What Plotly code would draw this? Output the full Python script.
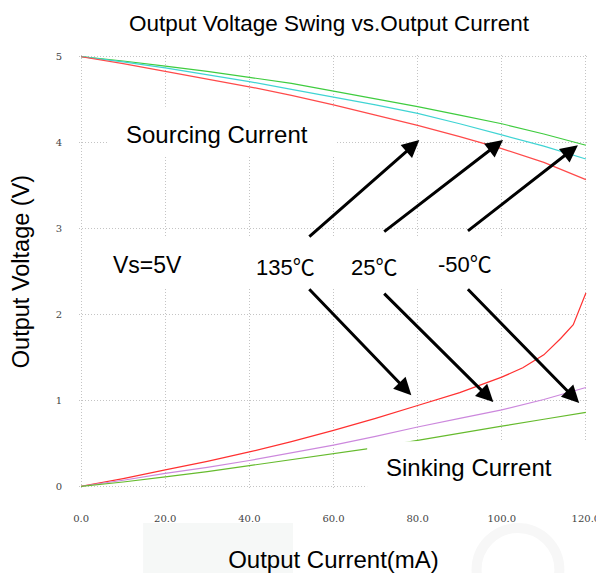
import plotly.graph_objects as go

# ---------------- data ----------------
x_source = [0, 10, 20, 30, 40, 50, 60, 70, 80, 90, 100, 110, 120]
src_m50 = [5.00, 4.95, 4.89, 4.83, 4.76, 4.69, 4.60, 4.51, 4.42, 4.32, 4.22, 4.10, 3.97]
src_25 = [5.00, 4.94, 4.87, 4.79, 4.71, 4.62, 4.53, 4.44, 4.34, 4.22, 4.09, 3.96, 3.81]
src_135 = [5.00, 4.92, 4.83, 4.74, 4.65, 4.55, 4.44, 4.32, 4.20, 4.07, 3.93, 3.77, 3.57]

x_sink_135 = [0, 10, 20, 30, 40, 50, 60, 70, 80, 90, 100, 105, 110, 114, 117, 120]
sink_135 = [0.00, 0.09, 0.19, 0.29, 0.40, 0.52, 0.65, 0.79, 0.94, 1.09, 1.27, 1.38, 1.53, 1.72, 1.88, 2.25]
x_sink = [0, 10, 20, 30, 40, 50, 60, 70, 80, 90, 100, 110, 120]
sink_25 = [0.00, 0.07, 0.15, 0.22, 0.30, 0.39, 0.48, 0.58, 0.69, 0.79, 0.89, 1.01, 1.15]
sink_m50 = [0.00, 0.05, 0.11, 0.17, 0.24, 0.31, 0.38, 0.45, 0.535, 0.62, 0.70, 0.78, 0.86]

x_ticks = [0, 20, 40, 60, 80, 100, 120]
y_ticks = [0, 1, 2, 3, 4, 5]

# ---------------- figure ----------------
W, H = 604, 573
# the page body adds an 8px offset; margins compensate so the plot lands where it should
L, T, PW, PH = 67, 47, 516, 433
fig = go.Figure()

def line(xs, ys, color, name):
    fig.add_trace(go.Scatter(x=xs, y=ys, mode="lines", name=name,
                             line=dict(color=color, width=1.2), showlegend=False))

line(x_source, src_m50, "#3fcc3f", "-50℃ sourcing")
line(x_source, src_25, "#40d4d4", "25℃ sourcing")
line(x_source, src_135, "#ff4a4a", "135℃ sourcing")
line(x_sink_135, sink_135, "#ff3030", "135℃ sinking")
line(x_sink, sink_25, "#cc88dd", "25℃ sinking")
line(x_sink, sink_m50, "#66bb2e", "-50℃ sinking")

TXT = "Liberation Sans, Arial, sans-serif"
DEG = "<span style='font-family:Noto Sans CJK SC'>℃</span>"

def label(text, x, y, size=23):
    fig.add_annotation(x=x, y=y, text=text, showarrow=False, xanchor="center",
                       yanchor="middle", font=dict(family=TXT, size=size, color="#000"))

label("Sourcing Current", 32.3, 4.09, 24)
label("Vs=5V", 15.7, 2.57)
label("135" + DEG, 48.6, 2.57, 22)
label("25" + DEG, 69.7, 2.57, 22)
label("-50" + DEG, 91.3, 2.61, 22)
label("Sinking Current", 92.1, 0.22, 24)

def arrow(tail, tip):
    fig.add_annotation(x=tip[0], y=tip[1], ax=tail[0], ay=tail[1],
                       xref="x", yref="y", axref="x", ayref="y", text="",
                       showarrow=True, arrowhead=2, arrowsize=1.15,
                       arrowwidth=3, arrowcolor="#000")

arrow((53.9, 2.89), (80.4, 4.03))
arrow((71.7, 2.95), (100.3, 4.03))
arrow((91.6, 2.96), (118.1, 3.97))
arrow((53.9, 2.31), (78.5, 1.06))
arrow((71.7, 2.26), (98.0, 0.98))
arrow((91.6, 2.31), (118.4, 0.97))

# white label boxes hiding the grid (and part of one curve)
fig.add_shape(type="rect", xref="x", yref="y", x0=6.6, x1=60.5, y0=3.834, y1=4.417,
              fillcolor="white", line_width=0, layer="between")
fig.add_shape(type="rect", xref="x", yref="y", x0=4, x1=113, y0=2.32, y1=2.91,
              fillcolor="white", line_width=0, layer="between")
fig.add_shape(type="rect", xref="x", yref="y", x0=68.0, x1=125, y0=-0.3, y1=0.524,
              fillcolor="white", line_width=0, layer="above")

# faint watermark remnants (page px -> paper coords)
def px_x(p):
    return (p - 8 - L) / PW

def px_y(p):
    return 1 - (p - 8 - T) / PH

fig.add_shape(type="rect", xref="paper", yref="paper",
              x0=px_x(140), x1=px_x(292), y0=px_y(580), y1=px_y(523),
              fillcolor="#f6f8f7", line_width=0, layer="below")
fig.add_shape(type="circle", xref="paper", yref="paper",
              x0=px_x(478), x1=px_x(562), y0=px_y(612), y1=px_y(528),
              fillcolor="rgba(0,0,0,0)", line=dict(color="#f7f7f7", width=10), layer="below")

grid = dict(showgrid=True, gridcolor="#c4c4c4", gridwidth=1, griddash="1px,2px",
            zeroline=False, showline=False, ticks="outside",
            tickcolor="rgba(0,0,0,0)",
            tickfont=dict(family="DejaVu Serif, serif", size=10, color="#444"))

fig.update_layout(
    width=W, height=H,
    margin=dict(l=L, r=W - L - PW, t=T, b=H - T - PH),
    paper_bgcolor="white", plot_bgcolor="white",
    title=dict(text="Output Voltage Swing vs.Output Current",
               x=(329 - 8) / W, xanchor="center", y=1 - (23 - 8) / H, yanchor="middle",
               xref="container", yref="container",
               font=dict(family=TXT, size=22.5, color="#000")),
    xaxis=dict(range=[-0.5, 120.5], tickvals=x_ticks,
               ticktext=[f"{v:.1f}" for v in x_ticks], ticklen=21,
               title=dict(text="Output Current(mA)", standoff=28,
                          font=dict(family=TXT, size=24, color="#000")),
               **grid),
    yaxis=dict(range=[-0.02, 5.02], tickvals=y_ticks,
               ticktext=[str(v) for v in y_ticks], ticklen=14,
               title=dict(text="Output Voltage (V)", standoff=19,
                          font=dict(family=TXT, size=23.5, color="#000")),
               **grid),
    showlegend=False,
)

fig.write_html("out.html")
